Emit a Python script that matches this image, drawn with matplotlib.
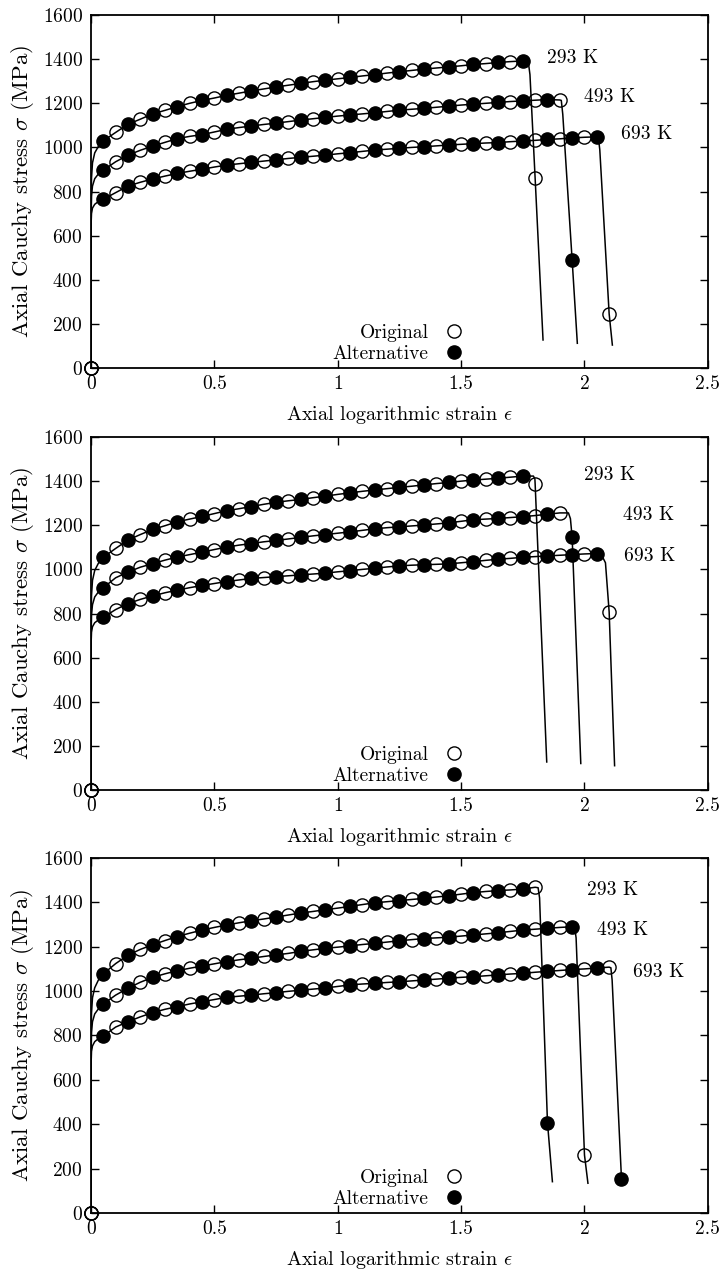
import numpy as np
import matplotlib.pyplot as plt
from matplotlib.lines import Line2D

plt.rcParams['font.family'] = 'cmr10'
plt.rcParams['mathtext.fontset'] = 'cm'
plt.rcParams['axes.formatter.use_mathtext'] = True
plt.rcParams['font.size'] = 14

temps = ['293 K', '493 K', '693 K']
step = 0.05   # markers every 0.05 of strain, starting at 0

# stress (MPa) at strain 0, 0.05, 0.10, ... ; last value is the point after the drop
# panel 1
p1_293 = [0, 1030, 1068, 1105, 1128, 1152, 1168, 1185, 1200, 1213, 1224, 1236, 1246, 1256,
          1265, 1274, 1282, 1290, 1298, 1305, 1311, 1317, 1324, 1330, 1337, 1343, 1349, 1355,
          1360, 1365, 1370, 1376, 1380, 1385, 1389, 1392, 860]
p1_493 = [0, 897, 935, 965, 987, 1006, 1023, 1040, 1050, 1058, 1070, 1082, 1090, 1097,
          1104, 1110, 1117, 1124, 1130, 1136, 1142, 1147, 1152, 1157, 1163, 1169, 1173, 1177,
          1182, 1187, 1192, 1196, 1200, 1204, 1208, 1211, 1214, 1217, 1215, 489]
p1_693 = [0, 765, 795, 825, 842, 857, 870, 882, 892, 901, 911, 920, 926, 932, 938, 944, 950,
          955, 960, 965, 971, 976, 982, 988, 992, 996, 1000, 1003, 1007, 1011, 1014, 1017,
          1020, 1022, 1026, 1029, 1032, 1036, 1039, 1043, 1046, 1048, 245]
# panel 2
p2_293 = [0, 1055, 1095, 1133, 1158, 1181, 1198, 1216, 1228, 1240, 1253, 1266, 1275, 1285,
          1295, 1304, 1311, 1317, 1325, 1332, 1340, 1347, 1354, 1360, 1366, 1372, 1377, 1383,
          1389, 1394, 1400, 1405, 1409, 1413, 1418, 1423, 1388]
p2_493 = [0, 917, 962, 988, 1010, 1026, 1042, 1056, 1067, 1078, 1090, 1101, 1110, 1117,
          1125, 1131, 1138, 1145, 1152, 1158, 1164, 1170, 1177, 1184, 1189, 1193, 1197, 1201,
          1206, 1211, 1218, 1225, 1228, 1231, 1235, 1239, 1244, 1250, 1256, 1145]
p2_693 = [0, 783, 818, 845, 864, 880, 894, 906, 917, 927, 936, 945, 952, 959, 963, 967, 971,
          975, 979, 983, 989, 994, 1000, 1005, 1011, 1016, 1019, 1021, 1023, 1025, 1030, 1035,
          1041, 1046, 1050, 1055, 1058, 1061, 1064, 1067, 1070, 1072, 807]
# panel 3
p3_293 = [0, 1078, 1124, 1162, 1188, 1209, 1228, 1246, 1261, 1275, 1287, 1298, 1308, 1317,
          1325, 1334, 1343, 1352, 1359, 1367, 1374, 1382, 1390, 1398, 1403, 1408, 1413, 1418,
          1424, 1430, 1437, 1444, 1449, 1453, 1456, 1460, 1468, 407]
p3_493 = [0, 942, 982, 1013, 1040, 1062, 1078, 1092, 1103, 1113, 1123, 1133, 1141, 1148,
          1156, 1163, 1170, 1179, 1186, 1193, 1198, 1204, 1210, 1215, 1221, 1227, 1232, 1237,
          1240, 1243, 1248, 1253, 1258, 1263, 1269, 1275, 1279, 1283, 1287, 1290, 261]
p3_693 = [0, 798, 838, 862, 884, 903, 918, 930, 942, 952, 962, 972, 977, 982, 988, 993, 999,
          1004, 1009, 1014, 1021, 1028, 1032, 1035, 1039, 1042, 1046, 1050, 1054, 1058, 1062,
          1065, 1069, 1073, 1077, 1080, 1085, 1089, 1093, 1097, 1100, 1104, 1108, 152]

# initial (elastic / early plastic) part of the curves: strain, stress
onset_x = [0, 0, 0.002, 0.006, 0.015, 0.03]
p1_onset = [[0, 640, 860, 930, 975, 1005], [0, 640, 780, 825, 858, 880], [0, 640, 700, 725, 742, 755]]
p2_onset = [[0, 650, 880, 950, 995, 1028], [0, 650, 795, 840, 875, 898], [0, 650, 715, 740, 758, 771]]
p3_onset = [[0, 660, 900, 970, 1015, 1050], [0, 660, 815, 862, 897, 920], [0, 660, 728, 753, 772, 786]]

# knee before the drop (x, y) and end of the drop (x, y)
p1_knee = [([1.772, 1.779], [1390, 1330]), ([1.906, 1.912], [1213, 1150]), ([2.056, 2.062], [1046, 990])]
p2_knee = [([1.793, 1.799], [1423, 1410]), ([1.935, 1.943], [1256, 1230]), ([2.068, 2.085], [1068, 1030])]
p3_knee = [([1.812, 1.818], [1466, 1420]), ([1.960, 1.966], [1288, 1240]), ([2.107, 2.112], [1105, 1050])]
p1_end = [(1.832, 127), (1.971, 112), (2.113, 104)]
p2_end = [(1.847, 127), (1.985, 120), (2.122, 110)]
p3_end = [(1.870, 141), (2.014, 134), (2.152, 140)]

# temperature labels (left edge x, y)
p1_lab = [(1.85, 1405), (2.0, 1228), (2.15, 1060)]
p2_lab = [(2.0, 1428), (2.155, 1246), (2.16, 1060)]
p3_lab = [(2.01, 1456), (2.05, 1275), (2.195, 1086)]

panels = [
    ([p1_293, p1_493, p1_693], p1_onset, p1_knee, p1_end, p1_lab),
    ([p2_293, p2_493, p2_693], p2_onset, p2_knee, p2_end, p2_lab),
    ([p3_293, p3_493, p3_693], p3_onset, p3_knee, p3_end, p3_lab),
]

fig = plt.figure(figsize=(7.24, 12.76), dpi=100)
axes_pos = [[0.1257, 0.7116, 0.852, 0.2766],
            [0.1257, 0.3809, 0.852, 0.2766],
            [0.1257, 0.0494, 0.852, 0.2782]]

ms = 9.5
for pos, (curves, onset, knees, ends, labs) in zip(axes_pos, panels):
    ax = fig.add_axes(pos)
    for i in range(3):
        s = np.array(curves[i], dtype=float)
        e = np.arange(len(s)) * step
        lx = onset_x + list(e[1:-1]) + knees[i][0] + [e[-1], ends[i][0]]
        ly = onset[i] + list(s[1:-1]) + knees[i][1] + [s[-1], ends[i][1]]
        ax.plot(lx, ly, 'k-', lw=1.1, zorder=2)
        ax.plot(e[::2], s[::2], 'o', ls='none', mfc='none', mec='k', mew=1.0, ms=ms,
                clip_on=False, zorder=3)
        ax.plot(e[1::2], s[1::2], 'o', ls='none', color='k', ms=ms, zorder=3)
        ax.text(labs[i][0], labs[i][1], temps[i], ha='left', va='center', fontsize=14)

    ax.set_xlim(0, 2.5)
    ax.set_ylim(0, 1600)
    ax.set_xticks([0, 0.5, 1, 1.5, 2, 2.5])
    ax.set_xticklabels(['0', '0.5', '1', '1.5', '2', '2.5'])
    ax.set_yticks(range(0, 1601, 200))
    ax.tick_params(direction='in', top=True, right=True, length=6, width=1, pad=5)
    ax.tick_params(axis='y', pad=6)
    for sp in ax.spines.values():
        sp.set_linewidth(1.3)
    ax.set_xlabel(r'Axial logarithmic strain $\epsilon$', fontsize=14.5, labelpad=8)
    ax.set_ylabel(r'Axial Cauchy stress $\sigma$ (MPa)', fontsize=16.5, labelpad=5)

    h = [Line2D([], [], ls='none', marker='o', mfc='none', mec='k', mew=1.0, ms=ms),
         Line2D([], [], ls='none', marker='o', color='k', ms=ms)]
    ax.legend(h, ['Original', 'Alternative'], loc='lower center', bbox_to_anchor=(0.498, -0.008),
              frameon=False, markerfirst=False, handletextpad=0.8, labelspacing=0.15,
              borderaxespad=0.0, handlelength=1.0, fontsize=14)

fig.savefig('out.png', dpi=100)
